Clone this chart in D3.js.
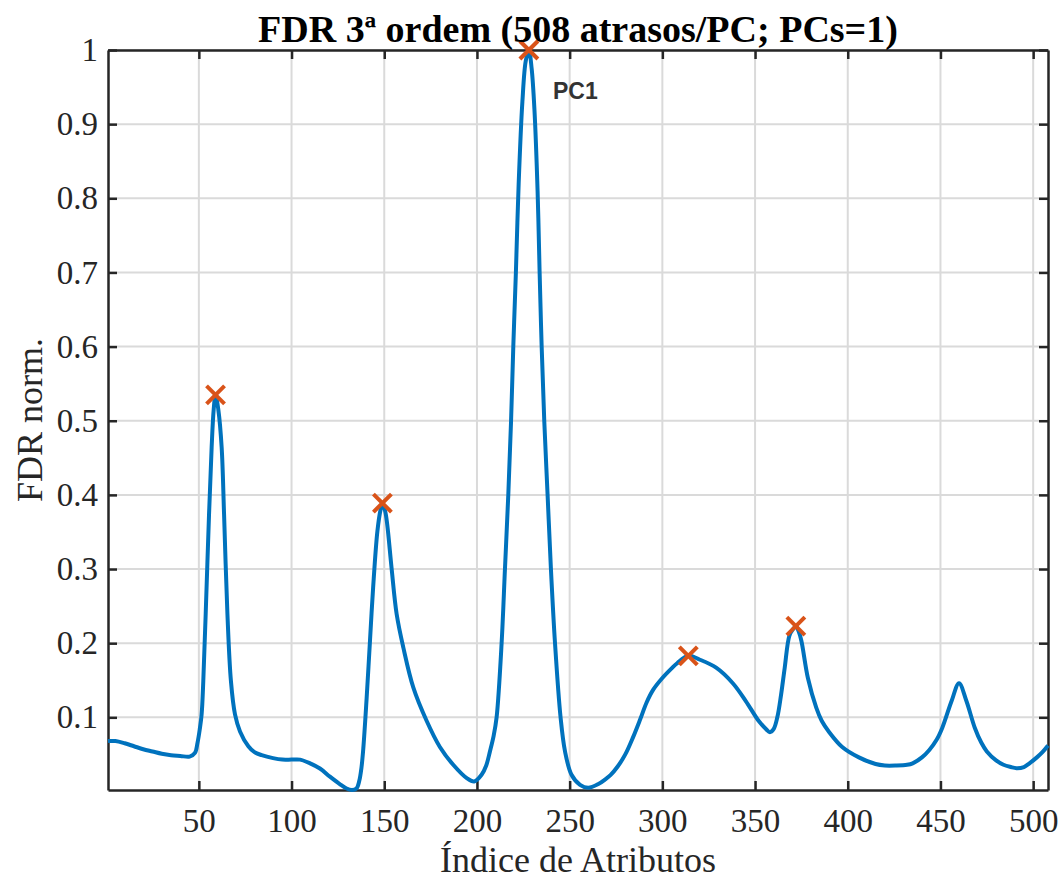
<!DOCTYPE html>
<html>
<head>
<meta charset="utf-8">
<script src="https://cdn.jsdelivr.net/npm/d3@7"></script>
<style>
  body { margin: 0; background: #fff; }
</style>
</head>
<body>
<svg id="chart"></svg>
<script>
var width = 1060,
    height = 882;

var margin = {top: 50, right: 12, bottom: 92, left: 108};

// curve (attribute index, normalised FDR)
var idx = [1,5,10,15,20,25,30,35,40,45,47.9,49.3,50.5,51.5,52.4,53.7,55.5,56.9,58,59,60.5,62.3,63.6,65.4,67.3,69.5,72.2,76.7,80,83.9,90,95,100,104.6,110,115.3,120.7,126,129.7,132.6,135,136.5,137.7,138.7,140.5,142.3,144,146.3,148,149,150.5,151.6,154,156.7,160.3,165.7,172.9,180,187.2,194.5,198.5,202.5,205,207,209,210.6,213.3,215.1,216.9,218.4,219.6,221,222.5,224.5,226.3,228,229.5,231,232.7,233.8,234.9,236.3,238.1,239.9,242.1,245.1,247.5,251,255.6,260,265.5,269,272,276,280,284,288,291.5,295,300,305,308,314,320,329,338,345,352,356,358,360,362,364,366,368.5,370.5,372,373.5,375,378.5,383,386,390,397,406,415,420,426,432,435,440,444,448,451,456,460,464,468.5,472,475,480,484,488,491,495,498,502,505,508];
var fdr = [0.068,0.068,0.065,0.061,0.057,0.054,0.051,0.049,0.048,0.047,0.052,0.066,0.084,0.104,0.149,0.24,0.374,0.464,0.515,0.535,0.515,0.464,0.374,0.24,0.149,0.104,0.081,0.061,0.053,0.049,0.045,0.043,0.043,0.043,0.038,0.031,0.02,0.01,0.004,0.002,0.004,0.014,0.032,0.058,0.126,0.203,0.275,0.351,0.38,0.389,0.378,0.36,0.3,0.239,0.194,0.14,0.095,0.06,0.036,0.018,0.0135,0.0225,0.035,0.054,0.075,0.1,0.2,0.3,0.4,0.5,0.6,0.7,0.82,0.93,0.985,1.0,0.975,0.92,0.81,0.7,0.6,0.5,0.4,0.3,0.2,0.1,0.054,0.0225,0.009,0.005,0.01,0.016,0.022,0.034,0.05,0.072,0.097,0.12,0.137,0.153,0.166,0.173,0.183,0.178,0.167,0.146,0.122,0.095,0.084,0.08,0.084,0.1,0.13,0.167,0.21,0.219,0.223,0.216,0.203,0.153,0.113,0.095,0.08,0.06,0.046,0.037,0.035,0.035,0.036,0.038,0.046,0.056,0.07,0.086,0.122,0.146,0.122,0.086,0.066,0.054,0.042,0.036,0.033,0.0315,0.033,0.038,0.046,0.053,0.062];

// selected peaks
var peakIdx = [59, 149, 228, 314, 372];
var peakVal = [0.535, 0.389, 1.0, 0.183, 0.223];
var peakLabels = ["", "", "PC1", "", ""];

var xTicks = [50, 100, 150, 200, 250, 300, 350, 400, 450, 500];
var yTicks = [0.1, 0.2, 0.3, 0.4, 0.5, 0.6, 0.7, 0.8, 0.9, 1];

var svg = d3.select("#chart")
    .attr("width", width)
    .attr("height", height)
    .style("font-family", "'Liberation Serif', 'Times New Roman', serif");

var x = d3.scaleLinear()
    .domain([1, 508])
    .range([margin.left, width - margin.right]);

var y = d3.scaleLinear()
    .domain([d3.min(fdr), 1])
    .range([height - margin.bottom, margin.top]);

var axisColor = "#262626";
var tickLen = 9;

// grid
svg.append("g")
  .selectAll("line")
  .data(xTicks)
  .join("line")
    .attr("x1", d => x(d)).attr("x2", d => x(d))
    .attr("y1", margin.top).attr("y2", height - margin.bottom)
    .attr("stroke", "#dadada").attr("stroke-width", 2);

svg.append("g")
  .selectAll("line")
  .data(yTicks)
  .join("line")
    .attr("x1", margin.left).attr("x2", width - margin.right)
    .attr("y1", d => y(d)).attr("y2", d => y(d))
    .attr("stroke", "#dadada").attr("stroke-width", 2);

// axes (ticks point inward, box on)
var xBottom = svg.append("g")
    .attr("transform", "translate(0," + (height - margin.bottom) + ")")
    .call(d3.axisBottom(x).tickValues(xTicks).tickSizeInner(-tickLen).tickSizeOuter(0).tickPadding(19));
var xTop = svg.append("g")
    .attr("transform", "translate(0," + margin.top + ")")
    .call(d3.axisTop(x).tickValues(xTicks).tickSizeInner(-tickLen).tickSizeOuter(0).tickFormat(""));
var yLeft = svg.append("g")
    .attr("transform", "translate(" + margin.left + ",0)")
    .call(d3.axisLeft(y).tickValues(yTicks).tickSizeInner(-tickLen).tickSizeOuter(0).tickPadding(10)
      .tickFormat(d => d === 1 ? "1" : d3.format(".1f")(d)));
var yRight = svg.append("g")
    .attr("transform", "translate(" + (width - margin.right) + ",0)")
    .call(d3.axisRight(y).tickValues(yTicks).tickSizeInner(-tickLen).tickSizeOuter(0).tickFormat(""));

[xBottom, xTop, yLeft, yRight].forEach(function(g) {
  g.selectAll(".domain").attr("stroke", axisColor).attr("stroke-width", 2.5);
  g.selectAll(".tick line").attr("stroke", axisColor).attr("stroke-width", 2.5);
  g.selectAll("text")
    .attr("fill", axisColor)
    .style("font-family", "'Liberation Serif', 'Times New Roman', serif")
    .style("font-size", "33px");
});

// curve
var line = d3.line()
    .x(function(d, i) { return x(idx[i]); })
    .y(function(d) { return y(d); })
    .curve(d3.curveCatmullRom.alpha(0.5));

svg.append("path")
    .datum(fdr)
    .attr("d", line)
    .attr("fill", "none")
    .attr("stroke", "#0072BD")
    .attr("stroke-width", 4)
    .attr("stroke-linejoin", "round");

// peak markers
var ms = 9;
var marks = svg.append("g")
  .selectAll("g")
  .data(peakIdx)
  .join("g")
    .attr("transform", (d, i) => "translate(" + x(d) + "," + y(peakVal[i]) + ")");
marks.append("line")
    .attr("x1", -ms).attr("y1", -ms).attr("x2", ms).attr("y2", ms)
    .attr("stroke", "#D95319").attr("stroke-width", 4);
marks.append("line")
    .attr("x1", -ms).attr("y1", ms).attr("x2", ms).attr("y2", -ms)
    .attr("stroke", "#D95319").attr("stroke-width", 4);

svg.append("g")
  .selectAll("text")
  .data(peakIdx)
  .join("text")
    .attr("x", d => x(d + 13))
    .attr("y", (d, i) => y(peakVal[i] - 0.055))
    .attr("dy", "0.35em")
    .text((d, i) => peakLabels[i])
    .style("font-family", "'Liberation Sans', Arial, sans-serif")
    .style("font-weight", "bold")
    .style("font-size", "23px")
    .attr("fill", "#333333");

// title and axis labels
svg.append("text")
    .attr("x", (margin.left + width - margin.right) / 2)
    .attr("y", 42)
    .attr("text-anchor", "middle")
    .style("font-size", "38px")
    .style("font-weight", "bold")
    .attr("fill", "#000")
    .text("FDR 3ª ordem (508 atrasos/PC; PCs=1)");

svg.append("text")
    .attr("x", (margin.left + width - margin.right) / 2)
    .attr("y", 872)
    .attr("text-anchor", "middle")
    .style("font-size", "36px")
    .attr("fill", axisColor)
    .text("Índice de Atributos");

svg.append("text")
    .attr("transform", "translate(42," + ((margin.top + height - margin.bottom) / 2) + ") rotate(-90)")
    .attr("text-anchor", "middle")
    .style("font-size", "36px")
    .attr("fill", axisColor)
    .text("FDR norm.");
</script>
</body>
</html>
